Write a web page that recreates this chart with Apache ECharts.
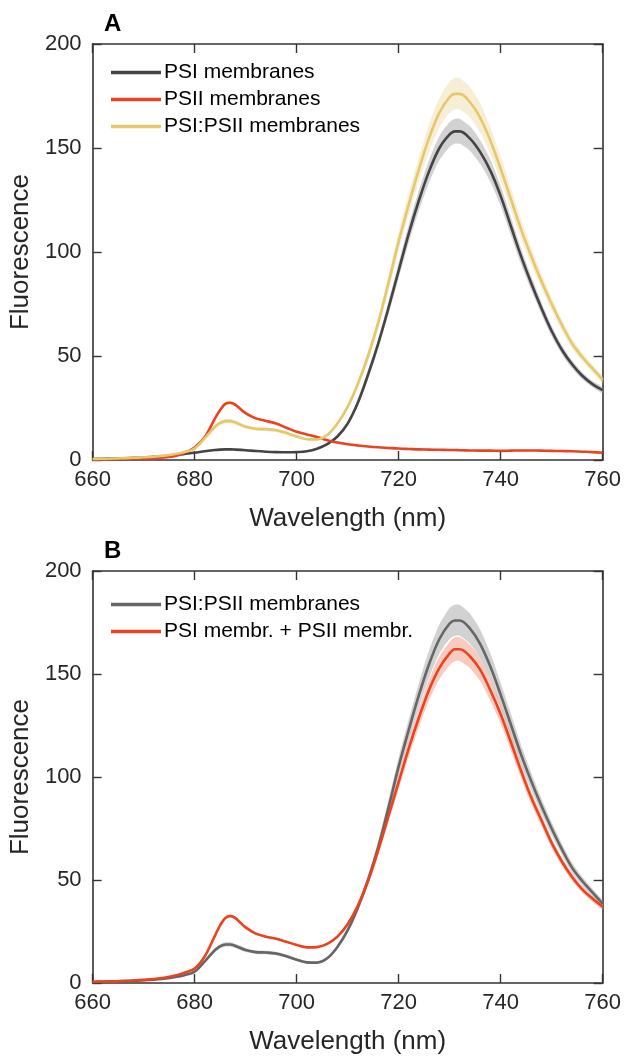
<!DOCTYPE html>
<html><head><meta charset="utf-8">
<script src="https://cdn.jsdelivr.net/npm/echarts@6/dist/echarts.min.js"></script>
<style>html,body{margin:0;padding:0;background:#fff}#c{width:624px;height:1056px}</style>
</head><body><div id="c"></div>
<script>
// ---------- data ----------
const wavelengths = [660,662,664,666,668,670,672,674,676,678,680,682,684,685,686,687,688,690,692,694,696,698,700,702,704,706,708,710,712,714,716,718,720,722,724,726,728,730,731,732,734,736,738,740,742,744,746,748,750,752,754,756,758,760];
const xTicks = [660,680,700,720,740,760];
const yTicks = [0,50,100,150,200];

// Panel A
const psiMembranes = [0.5,0.6,0.7,0.8,1.0,1.2,1.5,1.8,2.3,2.9,3.5,4.2,4.8, 5.0,5.1,5.1,
  5.0,4.7,4.3,4.0,3.8,3.7,3.8,4.2,5.4,7.6,11.3,17.5,27.5,41,56,73,91,109,125,139,150,156.5,
  158, 158,154.5,148,139,127,112.5,98,85,73,62,53,46,40.5,36.5,33.6];
const psiMembranesSD = [0.1,0.1,0.1,0.1,0.1,0.1,0.1,0.1,0.15,0.2,0.25,0.3,0.35, 0.4,0.4,0.4,
  0.4,0.4,0.4,0.35,0.35,0.35,0.35,0.4,0.45,0.55,0.8,1.1,1.5,2.0,2.5,3.1,3.7,4.3,4.9,5.4,5.8,6.0,
  6.0, 6.0,5.9,5.7,5.3,4.8,4.3,3.8,3.3,2.9,2.5,2.1,1.9,1.7,1.5,1.4];
const psiiMembranes = [0.3,0.3,0.4,0.5,0.6,0.7,0.9,1.2,1.8,3.5,6,11,20, 24,27,27.5,
  26.5,22.5,20,18.8,17.5,15.5,13.6,12.3,11,9.5,8.4,7.6,7.0,6.5,6.1,5.8,5.5,5.3,5.1,5.0,4.9,4.8,
  4.8, 4.7,4.6,4.5,4.5,4.4,4.5,4.6,4.6,4.5,4.4,4.3,4.2,4.0,3.8,3.5];
const psiiMembranesSD = [0.1,0.1,0.1,0.1,0.1,0.1,0.1,0.1,0.1,0.15,0.2,0.3,0.5, 0.6,0.7,0.7,
  0.7,0.6,0.5,0.5,0.5,0.4,0.4,0.35,0.3,0.3,0.3,0.3,0.25,0.25,0.2,0.2,0.2,0.2,0.2,0.2,0.2,0.2,
  0.2, 0.2,0.2,0.2,0.2,0.2,0.2,0.2,0.2,0.2,0.2,0.2,0.2,0.2,0.2,0.2];
const psiPsiiMembranes = [0.5,0.6,0.7,0.9,1.1,1.3,1.6,2.1,2.8,3.8,5.5,10.5,16, 17.8,18.7,18.7,
  18,16,15,14.8,14.3,13,11.3,10,9.9,12,17.5,25.5,36.5,50,66,85,105,123,140,155,167,174.5,
  176, 176,172,164.5,153.5,140,125.5,111,98,86,75,65,56,49.5,44,38.5];
const psiPsiiMembranesSD = [0.1,0.1,0.1,0.1,0.1,0.15,0.15,0.2,0.2,0.3,0.4,0.6,0.9, 1.0,1.1,1.1,
  1.0,1.0,0.9,0.9,0.9,0.8,0.7,0.6,0.6,0.7,1.0,1.4,1.9,2.5,3.1,3.8,4.5,5.2,5.9,6.6,7.1,7.5,
  7.6, 7.5,7.3,7.0,6.5,5.9,5.3,4.7,4.1,3.6,3.1,2.7,2.4,2.1,1.8,1.6];

// Panel B
const psiPlusPsii = [0.6,0.7,0.8,1.0,1.2,1.5,1.9,2.5,3.5,5,7,13,23, 28,31.5,32.5,
  31.5,27,24,22.5,21.5,20,18.5,17.3,17.4,19,22.5,28.5,37.5,49.5,64.5,81,97.5,114,129,142.5,153,160,
  162, 162,158.5,152,142,130.5,117,103,90,79,68,59,51.5,45.5,41,37];
const psiPlusPsiiSD = [0.1,0.1,0.1,0.1,0.1,0.1,0.1,0.15,0.2,0.25,0.3,0.4,0.6, 0.7,0.8,0.8,
  0.8,0.7,0.6,0.6,0.6,0.5,0.5,0.5,0.5,0.6,0.8,1.1,1.5,2.0,2.5,3.0,3.6,4.2,4.7,5.1,5.5,5.7,
  5.8, 5.8,5.7,5.5,5.1,4.6,4.1,3.6,3.2,2.8,2.4,2.1,1.9,1.7,1.5,1.4];

const namesA = ['PSI membranes','PSII membranes','PSI:PSII membranes'];
const namesB = ['PSI:PSII membranes','PSI membr. + PSII membr.'];

// ---------- styling ----------
const FONT = '"Liberation Sans", Arial, Helvetica, sans-serif';
const AX = '#333333';
const C_GRAY_A = '#444444', C_GRAY_B = '#666666', C_RED = '#e9431f', C_YEL = '#e6c76c';
const B_GRAY = 'rgba(165,165,165,0.5)', B_RED = 'rgba(240,140,115,0.45)', B_YEL = 'rgba(236,215,150,0.4)';

const chart = echarts.init(document.getElementById('c'), null, {renderer:'canvas'});

const grids = [
  {left:92, right:19.5, top:44, height:416},
  {left:92, right:19.5, top:571, height:416}
];

function xAxes(gi) {
  const base = {gridIndex:gi, type:'value', min:660, max:760, interval:20,
    axisLine:{show:true, onZero:false, lineStyle:{color:AX, width:1.6}},
    axisTick:{show:true, inside:true, length:9, lineStyle:{color:AX, width:1.4}},
    splitLine:{show:false}};
  return [
    Object.assign({}, base, {position:'bottom',
      axisLabel:{fontSize:22, color:'#262626', fontFamily:FONT, margin:9,
        formatter: v => xTicks.includes(v) ? String(v) : ''},
      name:'Wavelength (nm)', nameLocation:'middle', nameGap:46,
      nameTextStyle:{fontSize:26, color:'#262626', fontFamily:FONT}}),
    Object.assign({}, base, {position:'top', axisLabel:{show:false}})
  ];
}
function yAxes(gi) {
  const base = {gridIndex:gi, type:'value', min:0, max:200, interval:50,
    axisLine:{show:true, onZero:false, lineStyle:{color:AX, width:1.6}},
    axisTick:{show:true, inside:true, length:9, lineStyle:{color:AX, width:1.4}},
    splitLine:{show:false}};
  return [
    Object.assign({}, base, {position:'left',
      axisLabel:{fontSize:22, color:'#262626', fontFamily:FONT, margin:11,
        formatter: v => yTicks.includes(v) ? String(v) : ''},
      name:'Fluorescence', nameLocation:'middle', nameGap:51,
      nameTextStyle:{fontSize:26, color:'#262626', fontFamily:FONT}}),
    Object.assign({}, base, {position:'right', axisLabel:{show:false}})
  ];
}

function band(axisIdx, vals, sd, color) {
  return {
    type:'custom', xAxisIndex:axisIdx, yAxisIndex:axisIdx, silent:true, z:1,
    clip:true,
    encode:{x:0, y:1},
    data:[[wavelengths[0], vals[0]]],
    renderItem:(params, api) => {
      const up = wavelengths.map((w,i)=>api.coord([w, vals[i]+sd[i]]));
      const lo = wavelengths.map((w,i)=>api.coord([w, vals[i]-sd[i]])).reverse();
      return {type:'polygon', shape:{points:up.concat(lo), smooth:0.25}, style:{fill:color}};
    }
  };
}
function line(axisIdx, name, vals, color, z) {
  return {
    type:'line', name, xAxisIndex:axisIdx, yAxisIndex:axisIdx, z,
    data: wavelengths.map((w,i)=>[w, vals[i]]),
    smooth:0.35, symbol:'none', showSymbol:false,
    itemStyle:{color}, lineStyle:{color, width:2.6},
    emphasis:{disabled:true}, animation:false
  };
}

const option = {
  animation:false,
  backgroundColor:'#ffffff',
  grid: grids,
  xAxis: [...xAxes(0), ...xAxes(1)],
  yAxis: [...yAxes(0), ...yAxes(1)],
  legend: [
    {data:namesA.map(n=>'A|'+n), orient:'vertical', left:106, top:57,
     icon:'rect', itemWidth:50, itemHeight:3.5, itemGap:6, selectedMode:false,
     formatter: n => n.slice(2),
     textStyle:{fontSize:21, lineHeight:21, color:'#000', fontFamily:FONT, padding:[0,0,0,-2]}},
    {data:namesB.map(n=>'B|'+n), orient:'vertical', left:106, top:589,
     icon:'rect', itemWidth:50, itemHeight:3.5, itemGap:6, selectedMode:false,
     formatter: n => n.slice(2),
     textStyle:{fontSize:21, lineHeight:21, color:'#000', fontFamily:FONT, padding:[0,0,0,-2]}}
  ],
  graphic: [
    {type:'text', left:104, top:12, style:{text:'A', font:'bold 24px '+FONT, fill:'#000'}},
    {type:'text', left:104, top:539, style:{text:'B', font:'bold 24px '+FONT, fill:'#000'}}
  ],
  series: [
    band(0, psiPsiiMembranes, psiPsiiMembranesSD, B_YEL),
    band(0, psiMembranes, psiMembranesSD, B_GRAY),
    band(0, psiiMembranes, psiiMembranesSD, B_RED),
    line(0, 'A|PSI membranes', psiMembranes, C_GRAY_A, 3),
    line(0, 'A|PSII membranes', psiiMembranes, C_RED, 4),
    line(0, 'A|PSI:PSII membranes', psiPsiiMembranes, C_YEL, 5),
    band(2, psiPsiiMembranes, psiPsiiMembranesSD, B_GRAY),
    band(2, psiPlusPsii, psiPlusPsiiSD, B_RED),
    line(2, 'B|PSI:PSII membranes', psiPsiiMembranes, C_GRAY_B, 3),
    line(2, 'B|PSI membr. + PSII membr.', psiPlusPsii, C_RED, 4)
  ]
};
chart.setOption(option);
</script></body></html>
